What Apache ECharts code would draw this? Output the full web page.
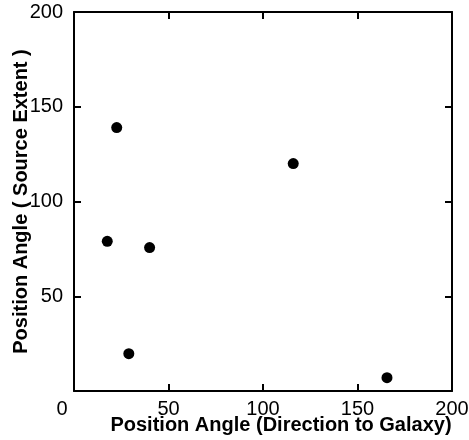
<!DOCTYPE html>
<html>
<head>
<meta charset="utf-8">
<script src="https://cdn.jsdelivr.net/npm/echarts@6/dist/echarts.min.js"></script>
<style>
	html, body { margin: 0; padding: 0; background: #fff; }
	#chart { width: 469px; height: 440px; }
</style>
</head>
<body>
<div id="chart"></div>
<script>
	// position angle toward the galaxy (x) vs. position angle of the source extent (y)
	var galaxyAngle = [22.6, 17.6, 40, 29, 116, 165.6];
	var extentAngle = [139, 79, 75.7, 19.7, 120, 7];
	var xTicks = [0, 50, 100, 150, 200];
	var yTicks = [0, 50, 100, 150, 200];

	var font = 'Liberation Sans';
	var ink = '#000';

	var points = galaxyAngle.map(function (x, i) {
		return [x, extentAngle[i]];
	});

	var myChart = echarts.init(document.getElementById('chart'));

	// frame sides: bottom/left carry labels, top/right only inner ticks
	function frameAxis(pos) {
		var isX = pos === 'bottom' || pos === 'top';
		var ticks = isX ? xTicks : yTicks;
		return {
			type: 'value',
			position: pos,
			min: ticks[0],
			max: ticks[ticks.length - 1],
			interval: 50,
			axisLine: { show: true, onZero: false, lineStyle: { color: ink, width: 2 } },
			axisTick: { show: true, inside: true, length: 7, lineStyle: { color: ink, width: 2 } },
			splitLine: { show: false },
			axisLabel: { show: false }
		};
	}

	var xBottom = frameAxis('bottom');
	xBottom.axisLabel = {
		show: true,
		margin: 8,
		color: ink,
		fontFamily: font,
		fontSize: 20,
		showMinLabel: true,
		showMaxLabel: true,
		formatter: function (v) {
			return v === 0 ? '{z|0}' : String(v);
		},
		rich: {
			z: { fontFamily: font, fontSize: 20, color: ink, padding: [0, 24, 0, 0] }
		}
	};
	xBottom.name = 'Position Angle (Direction to Galaxy)';
	xBottom.nameLocation = 'middle';
	xBottom.nameGap = 24;
	xBottom.nameMoveOverlap = false;
	xBottom.nameTextStyle = {
		color: ink, fontFamily: font, fontSize: 20, fontWeight: 'bold',
		padding: [0, 0, 0, 36]
	};

	var yLeft = frameAxis('left');
	yLeft.axisLabel = {
		show: true,
		margin: 11,
		color: ink,
		fontFamily: font,
		fontSize: 20,
		showMinLabel: false,
		showMaxLabel: true
	};
	yLeft.name = 'Position Angle ( Source Extent )';
	yLeft.nameLocation = 'middle';
	yLeft.nameGap = 43;
	yLeft.nameMoveOverlap = false;
	yLeft.nameTextStyle = {
		color: ink, fontFamily: font, fontSize: 20, fontWeight: 'bold'
	};

	var option = {
		backgroundColor: '#fff',
		animation: false,
		grid: { left: 74, right: 17, top: 12, bottom: 49, containLabel: false, outerBoundsMode: 'none' },
		xAxis: [xBottom, frameAxis('top')],
		yAxis: [yLeft, frameAxis('right')],
		series: [
			{
				type: 'scatter',
				xAxisIndex: 0,
				yAxisIndex: 0,
				symbol: 'circle',
				symbolSize: 11,
				itemStyle: { color: ink, opacity: 1 },
				data: points
			}
		]
	};

	myChart.setOption(option);
</script>
</body>
</html>
